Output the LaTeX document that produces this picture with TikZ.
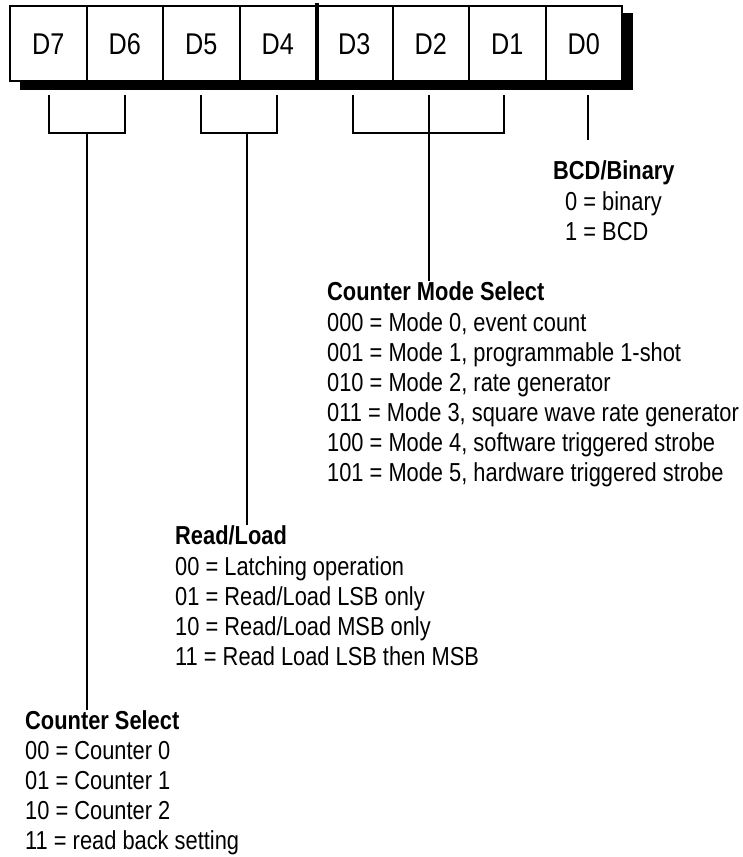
\documentclass[tikz,border=0pt]{standalone}
\usepackage{fontspec}
\setmainfont{Liberation Sans}[FakeStretch=0.84]
\usetikzlibrary{positioning}

\tikzstyle{bit}=[draw,fill=white,line width=2pt,minimum width=76.5pt,minimum height=75pt,inner sep=0pt,text height=21.5pt,text depth=0pt,font=\fontsize{30}{36}\selectfont]
\tikzstyle{wire}=[line width=2pt]
\tikzstyle{heading}=[anchor=base west,inner sep=0pt,font=\bfseries\fontsize{26}{30}\selectfont]
\tikzstyle{entries}=[align=left,inner sep=0pt,font=\fontsize{26}{30}\selectfont]

\begin{document}
\begin{tikzpicture}[x=1pt,y=-1pt]
    \useasboundingbox (0,0) rectangle (743,857);

    % shadow behind the register
    \fill (20,13) rectangle (633,90);

    \node (d7)[bit] at (48.25,43.5) {D7};
    \node (d6)[bit] at (124.75,43.5) {D6};
    \node (d5)[bit] at (201.25,43.5) {D5};
    \node (d4)[bit] at (277.75,43.5) {D4};
    \node (d3)[bit] at (354.25,43.5) {D3};
    \node (d2)[bit] at (430.75,43.5) {D2};
    \node (d1)[bit] at (507.25,43.5) {D1};
    \node (d0)[bit] at (583.75,43.5) {D0};
    \draw[line width=4pt] ([yshift=2pt]d4.north east) -- (d4.south east);

    \node (bcd)[heading] at (553,179) {BCD/Binary};
    \node (bcdval)[entries,below=12pt of bcd.base west,anchor=north west,xshift=12pt] {0 = binary\\1 = BCD};

    \node (cms)[heading] at (327,300) {Counter Mode Select};
    \node (cmsval)[entries,below=12pt of cms.base west,anchor=north west] {000 = Mode 0, event count\\001 = Mode 1, programmable 1-shot\\010 = Mode 2, rate generator\\011 = Mode 3, square wave rate generator\\100 = Mode 4, software triggered strobe\\101 = Mode 5, hardware triggered strobe};

    \node (rl)[heading] at (175,544) {Read/Load};
    \node (rlval)[entries,below=12pt of rl.base west,anchor=north west] {00 = Latching operation\\01 = Read/Load LSB only\\10 = Read/Load MSB only\\11 = Read Load LSB then MSB};

    \node (cs)[heading] at (25,729) {Counter Select};
    \node (csval)[entries,below=12pt of cs.base west,anchor=north west] {00 = Counter 0\\01 = Counter 1\\10 = Counter 2\\11 = read back setting};

    \coordinate (t7) at (49,95);
    \coordinate (t6) at (125,95);
    \coordinate (j76) at (87,133);
    \coordinate (t5) at (201,95);
    \coordinate (t4) at (277,95);
    \coordinate (j54) at (247,133);
    \coordinate (t3) at (353,95);
    \coordinate (t2) at (429,95);
    \coordinate (t1) at (504,95);
    \coordinate (j31) at (429,133);
    \coordinate (t0) at (588,95);
    \coordinate (b0) at (588,140);

    \draw[wire] (t7) |- (j76) -| (t6);
    \draw[wire] (j76) -- (j76 |- cs.north);
    \draw[wire] (t5) |- (j54) -| (t4);
    \draw[wire] (j54) -- (j54 |- rl.north);
    \draw[wire] (t3) |- (j31) -| (t1);
    \draw[wire] (t2) -- (t2 |- cms.north);
    \draw[wire] (t0) -- (b0);
\end{tikzpicture}
\end{document}
